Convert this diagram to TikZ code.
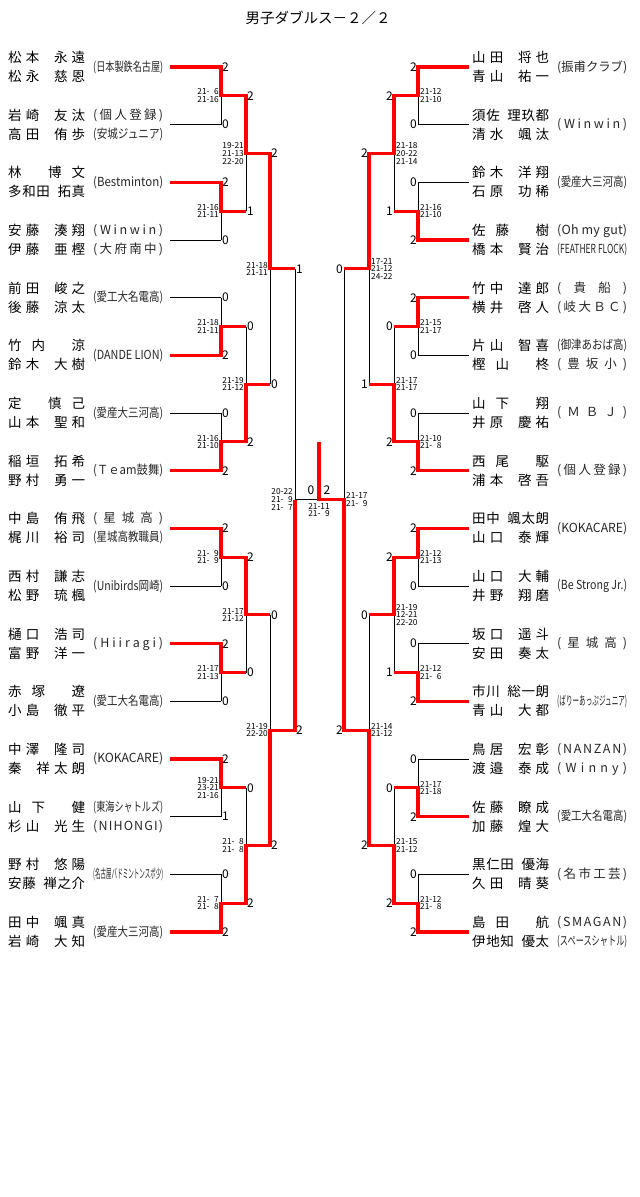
\documentclass[tikz,border=0pt]{standalone}
\usepackage{fontspec}
\usepackage{graphicx}
\setmainfont{Noto Sans CJK JP}
\newcommand{\hs}{\kern6.5pt}
\newcommand{\dg}{\phantom{0}}
\def\spreadnext#1{\ifx#1\relax\else#1\hfill\expandafter\spreadnext\fi}
\newcommand{\spreadto}[2]{\hbox to #1{\expandafter\spreadnext#2\relax\unskip}}
\newsavebox{\affbox}
\newcommand{\aff}[1]{\sbox{\affbox}{#1}%
  \ifdim\wd\affbox>70pt\relax\resizebox{70pt}{\height}{#1}\else\spreadto{70pt}{#1}\fi}

\begin{document}
\begin{tikzpicture}[x=1pt,y=-1pt,
    bline/.style={line width=1pt},
    rline/.style={line width=3.2pt,red},
    num/.style={inner sep=1pt,font=\fontsize{12}{13}\selectfont},
    sets/.style={inner sep=0.5pt,align=center,font=\fontsize{8.3}{7.6}\selectfont},
    plname/.style={inner sep=0pt,anchor=west,align=left,font=\fontsize{13.5}{19}\selectfont},
    plclub/.style={inner sep=0pt,anchor=west,align=left,text=black!85,font=\fontsize{12.5}{19}\selectfont}]
  \useasboundingbox (0,0) rectangle (640,1197);
  \node[font=\fontsize{14.5}{16}\selectfont] (title) at (318,18) {男子ダブルス－２／２};

  % bracket points, level k slot m
  \foreach \k/\n/\xa/\xb/\xc/\xd in {0/16/170/221/469/418,1/8/221/246/418/394,2/4/246/270/394/369,3/2/270/295/369/344,4/1/295/319/344/319}{
    \foreach \m in {1,...,\n}{
      \pgfmathsetmacro{\sy}{67+57.667*((\m-1)*2^\k+(2^\k-1)/2)}
      \coordinate (L\k-\m-a) at (\xa,\sy);
      \coordinate (L\k-\m-b) at (\xb,\sy);
      \coordinate (R\k-\m-a) at (\xc,\sy);
      \coordinate (R\k-\m-b) at (\xd,\sy);
    }
  }
  \coordinate (top) at (319,442);

  % black lines
  \foreach \i in {1,...,16}{
    \draw[bline] (L0-\i-a) -- (L0-\i-b);
    \draw[bline] (R0-\i-a) -- (R0-\i-b);
  }
  \foreach \k/\n in {0/8,1/4,2/2,3/1}{
    \foreach \m in {1,...,\n}{
      \pgfmathtruncatemacro{\p}{2*\m-1}
      \pgfmathtruncatemacro{\q}{2*\m}
      \draw[bline] (L\k-\p-b) -- (L\k-\q-b);
      \draw[bline] (R\k-\p-b) -- (R\k-\q-b);
    }
  }
  \draw[bline] (L4-1-a) -- (L4-1-b);

  % red lines of the winners
  \foreach \k/\m/\w in {0/1/1,0/2/3,0/3/6,0/4/8,0/5/9,0/6/11,0/7/13,0/8/16,1/1/1,1/2/4,1/3/5,1/4/8,2/1/1,2/2/4}{
    \pgfmathtruncatemacro{\kk}{\k+1}
    \draw[rline] (L\k-\w-a) -- (L\k-\w-b) -- (L\kk-\m-a) -- (L\kk-\m-b);
  }
  \foreach \k/\m/\w in {0/1/1,0/2/4,0/3/5,0/4/8,0/5/9,0/6/12,0/7/14,0/8/16,1/1/1,1/2/4,1/3/5,1/4/8,2/1/1,2/2/4}{
    \pgfmathtruncatemacro{\kk}{\k+1}
    \draw[rline] (R\k-\w-a) -- (R\k-\w-b) -- (R\kk-\m-a) -- (R\kk-\m-b);
  }
  \draw[rline] (L3-2-a) -- (L3-2-b) -- (L4-1-a);
  \draw[rline] (R3-2-a) -- (R3-2-b) -- (R4-1-a) -- (R4-1-b) -- (top);

  % game scores
  \foreach \s [count=\i] in {2,0,2,0,0,2,0,2,2,0,2,0,2,1,0,2}
    \node[num,anchor=west] (nl0-\i) at (L0-\i-b) {\s};
  \foreach \s [count=\i] in {2,1,0,2,2,0,0,2}
    \node[num,anchor=west] (nl1-\i) at (L1-\i-b) {\s};
  \foreach \s [count=\i] in {2,0,0,2}
    \node[num,anchor=west] (nl2-\i) at (L2-\i-b) {\s};
  \foreach \s [count=\i] in {1,2}
    \node[num,anchor=west] (nl3-\i) at (L3-\i-b) {\s};
  \foreach \s [count=\i] in {2,0,0,2,2,0,0,2,2,0,0,2,0,2,0,2}
    \node[num,anchor=east] (nr0-\i) at (R0-\i-b) {\s};
  \foreach \s [count=\i] in {2,1,0,2,2,1,0,2}
    \node[num,anchor=east] (nr1-\i) at (R1-\i-b) {\s};
  \foreach \s [count=\i] in {2,1,0,2}
    \node[num,anchor=east] (nr2-\i) at (R2-\i-b) {\s};
  \foreach \s [count=\i] in {0,2}
    \node[num,anchor=east] (nr3-\i) at (R3-\i-b) {\s};
  \node[num] (finl) at (311,490) {0};
  \node[num] (finr) at (327,490) {2};

  % set scores
  \foreach \k/\m/\res in {1/1/{21-\dg6\\21-16},1/2/{21-16\\21-11},1/3/{21-18\\21-11},1/4/{21-16\\21-10},
      1/5/{21-\dg9\\21-\dg9},1/6/{21-17\\21-13},1/7/{19-21\\23-21\\21-16},1/8/{21-\dg7\\21-\dg8},
      2/1/{19-21\\21-13\\22-20},2/2/{21-19\\21-12},2/3/{21-17\\21-12},2/4/{21-\dg8\\21-\dg8},
      3/1/{21-18\\21-11},3/2/{21-19\\22-20},4/1/{20-22\\21-\dg9\\21-\dg7}}
    \node[sets,anchor=east] (gl\k-\m) at ([xshift=-1.5pt]L\k-\m-a) {\res};
  \foreach \k/\m/\res in {1/1/{21-12\\21-10},1/2/{21-16\\21-10},1/3/{21-15\\21-17},1/4/{21-10\\21-\dg8},
      1/5/{21-12\\21-13},1/6/{21-12\\21-\dg6},1/7/{21-17\\21-18},1/8/{21-12\\21-\dg8},
      2/1/{21-18\\20-22\\21-14},2/2/{21-17\\21-17},2/3/{21-19\\12-21\\22-20},2/4/{21-15\\21-12},
      3/1/{17-21\\21-12\\24-22},3/2/{21-14\\21-12},4/1/{21-17\\21-\dg9}}
    \node[sets,anchor=west] (gr\k-\m) at ([xshift=1.5pt]R\k-\m-a) {\res};
  \node[sets,anchor=north] (gfin) at ([yshift=-3pt]L4-1-b) {21-11\\21-\dg9};

  % players, left half
  \foreach \i/\na/\nb/\club in {1/松本\hs 永遠/松永\hs 慈恩/{\aff{(日本製鉄名古屋)}},
      2/岩崎\hs 友汰/高田\hs 侑歩/{\aff{(個人登録)}\\\aff{(安城ジュニア)}},
      3/林\hs 博文/多和田\hs 拓真/{\aff{(Bestminton)}},
      4/安藤\hs 湊翔/伊藤\hs 亜樫/{\aff{(Winwin)}\\\aff{(大府南中)}},
      5/前田\hs 峻之/後藤\hs 涼太/{\aff{(愛工大名電高)}},
      6/竹内\hs 涼/鈴木\hs 大樹/{\aff{(DANDE~LION)}},
      7/定\hs 慎己/山本\hs 聖和/{\aff{(愛産大三河高)}},
      8/稲垣\hs 拓希/野村\hs 勇一/{\aff{(Ｔｅam鼓舞)}},
      9/中島\hs 侑飛/梶川\hs 裕司/{\aff{(星城高)}\\\aff{(星城高教職員)}},
      10/西村\hs 謙志/松野\hs 琉楓/{\aff{(Unibirds岡崎)}},
      11/樋口\hs 浩司/富野\hs 洋一/{\aff{(Hiiragi)}},
      12/赤塚\hs 遼/小島\hs 徹平/{\aff{(愛工大名電高)}},
      13/中澤\hs 隆司/秦\hs 祥太朗/{\aff{(KOKACARE)}},
      14/山下\hs 健/杉山\hs 光生/{\aff{(東海シャトルズ)}\\\aff{(NIHONGI)}},
      15/野村\hs 悠陽/安藤\hs 禅之介/{\aff{(名古屋バドミントンスポ少)}},
      16/田中\hs 颯真/岩崎\hs 大知/{\aff{(愛産大三河高)}}}{
    \node[plname] (pl\i) at (8,{67+57.667*(\i-1)}) {\spreadto{77pt}{\na}\\\spreadto{77pt}{\nb}};
    \node[plclub] (cl\i) at (93,{67+57.667*(\i-1)}) {\club};
  }
  % players, right half
  \foreach \i/\na/\nb/\club in {1/山田\hs 将也/青山\hs 祐一/{\aff{(振甫クラブ)}},
      2/須佐\hs 理玖都/清水\hs 颯汰/{\aff{(Winwin)}},
      3/鈴木\hs 洋翔/石原\hs 功稀/{\aff{(愛産大三河高)}},
      4/佐藤\hs 樹/橋本\hs 賢治/{\aff{(Oh~my~gut)}\\\aff{(FEATHER~FLOCK)}},
      5/竹中\hs 達郎/横井\hs 啓人/{\aff{(貴船)}\\\aff{(岐大ＢＣ)}},
      6/片山\hs 智喜/樫山\hs 柊/{\aff{(御津あおば高)}\\\aff{(豊坂小)}},
      7/山下\hs 翔/井原\hs 慶祐/{\aff{(ＭＢＪ)}},
      8/西尾\hs 駆/浦本\hs 啓吾/{\aff{(個人登録)}},
      9/田中\hs 颯太朗/山口\hs 泰輝/{\aff{(KOKACARE)}},
      10/山口\hs 大輔/井野\hs 翔磨/{\aff{(Be~Strong~Jr.)}},
      11/坂口\hs 遥斗/安田\hs 奏太/{\aff{(星城高)}},
      12/市川\hs 総一朗/青山\hs 大都/{\aff{(ばりーあっぷジュニア)}},
      13/鳥居\hs 宏彰/渡邉\hs 泰成/{\aff{(NANZAN)}\\\aff{(Winny)}},
      14/佐藤\hs 瞭成/加藤\hs 煌大/{\aff{(愛工大名電高)}},
      15/黒仁田\hs 優海/久田\hs 晴葵/{\aff{(名市工芸)}},
      16/島田\hs 航/伊地知\hs 優太/{\aff{(SMAGAN)}\\\aff{(スペースシャトル)}}}{
    \node[plname] (pr\i) at (472,{67+57.667*(\i-1)}) {\spreadto{77pt}{\na}\\\spreadto{77pt}{\nb}};
    \node[plclub] (cr\i) at (557,{67+57.667*(\i-1)}) {\club};
  }
\end{tikzpicture}
\end{document}
